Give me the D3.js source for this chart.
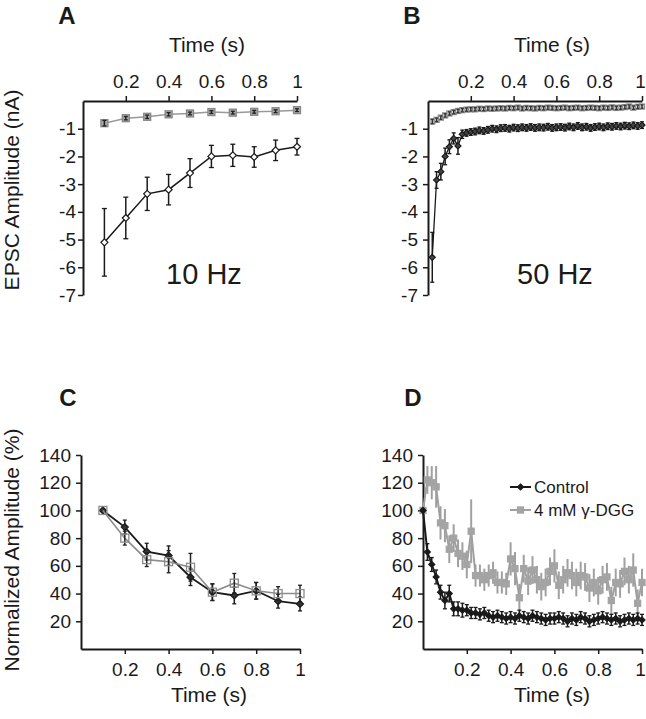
<!DOCTYPE html>
<html><head><meta charset="utf-8">
<script src="https://cdn.jsdelivr.net/npm/d3@7"></script>
<style>body{margin:0;background:#fff}svg{display:block}text{font-family:"Liberation Sans",Arial,sans-serif;fill:#1a1a1a}</style>
</head><body>
<svg id="chart" width="646" height="719"></svg>
<script>
// ---------- data ----------
const timesA = [0.1,0.2,0.3,0.4,0.5,0.6,0.7,0.8,0.9,1.0];
const controlA = [-5.1,-4.22,-3.35,-3.2,-2.6,-2.0,-1.96,-2.02,-1.78,-1.65];
const controlAErr = [1.22,0.75,0.6,0.55,0.52,0.4,0.4,0.37,0.37,0.3];
const dggA = [-0.8,-0.62,-0.57,-0.48,-0.45,-0.4,-0.42,-0.39,-0.37,-0.33];
const dggAErr = [0.1,0.06,0.06,0.06,0.05,0.05,0.05,0.05,0.05,0.05];

const timesB = [0.02,0.04,0.06,0.08,0.10,0.12,0.14,0.16,0.18,0.20,0.22,0.24,0.26,0.28,0.30,0.32,0.34,0.36,0.38,0.40,0.42,0.44,0.46,0.48,0.50,0.52,0.54,0.56,0.58,0.60,0.62,0.64,0.66,0.68,0.70,0.72,0.74,0.76,0.78,0.80,0.82,0.84,0.86,0.88,0.90,0.92,0.94,0.96,0.98,1.00];
const controlB = [-5.64,-2.85,-2.55,-2.0,-1.65,-1.35,-1.62,-1.2,-1.15,-1.12,-1.1,-1.06,-1.08,-1.04,-1.0,-1.02,-0.98,-0.97,-1.0,-0.96,-0.98,-0.95,-0.97,-0.94,-0.97,-0.95,-0.96,-0.93,-0.97,-0.95,-0.94,-0.96,-0.92,-0.95,-0.9,-0.95,-0.93,-0.97,-0.94,-0.92,-0.95,-0.91,-0.93,-0.9,-0.92,-0.89,-0.91,-0.88,-0.9,-0.87];
const controlBErr = [0.9,0.3,0.3,0.3,0.25,0.2,0.3,0.15,0.12,0.12,0.12,0.12,0.12,0.12,0.12,0.12,0.12,0.12,0.12,0.12,0.12,0.12,0.12,0.12,0.12,0.12,0.12,0.12,0.12,0.12,0.12,0.12,0.12,0.12,0.12,0.12,0.12,0.12,0.12,0.12,0.12,0.12,0.12,0.12,0.12,0.12,0.12,0.12,0.12,0.12];
const dggB = [-0.74,-0.68,-0.6,-0.52,-0.45,-0.4,-0.36,-0.33,-0.31,-0.3,-0.3,-0.28,-0.29,-0.27,-0.28,-0.27,-0.26,-0.27,-0.25,-0.26,-0.24,-0.27,-0.25,-0.26,-0.27,-0.25,-0.26,-0.24,-0.25,-0.26,-0.25,-0.24,-0.26,-0.25,-0.24,-0.26,-0.25,-0.24,-0.25,-0.26,-0.24,-0.25,-0.23,-0.25,-0.24,-0.22,-0.2,-0.24,-0.21,-0.2];
const dggBErr = [0.08,0.06,0.06,0.06,0.06,0.06,0.06,0.06,0.06,0.06,0.06,0.06,0.06,0.06,0.06,0.06,0.06,0.06,0.06,0.06,0.06,0.06,0.06,0.06,0.06,0.06,0.06,0.06,0.06,0.06,0.06,0.06,0.06,0.06,0.06,0.06,0.06,0.06,0.06,0.06,0.06,0.06,0.06,0.06,0.06,0.06,0.06,0.06,0.06,0.06];

const timesC = [0.1,0.2,0.3,0.4,0.5,0.6,0.7,0.8,0.9,1.0];
const controlC = [100,88,70.3,67.4,51.8,41,38.6,42,34.5,32.5];
const controlCErr = [0,5,6,7,6,6,6,6,5,5];
const dggC = [100,80,64.5,63,59,41,47.5,42,40,40];
const dggCErr = [0,5,5,8,10,6,7,6,5,6];

const timesD = [0,0.02,0.04,0.06,0.08,0.10,0.12,0.14,0.16,0.18,0.20,0.22,0.24,0.26,0.28,0.30,0.32,0.34,0.36,0.38,0.40,0.42,0.44,0.46,0.48,0.50,0.52,0.54,0.56,0.58,0.60,0.62,0.64,0.66,0.68,0.70,0.72,0.74,0.76,0.78,0.80,0.82,0.84,0.86,0.88,0.90,0.92,0.94,0.96,0.98,1.00];
const controlD = [100,70,61,52,41,35,40,29,29,28,28,26,26,25,26,24,23,24,23,22,23,22,24,23,22,24,23,22,21,22,22,23,22,20,22,21,23,22,20,21,22,23,22,21,22,20,21,22,21,22,21];
const controlDErr = [0,6,5,5,5,6,6,5,5,5,4,4,4,4,4,4,4,4,4,4,4,4,4,4,4,4,4,4,4,4,4,4,4,4,4,4,4,4,4,4,4,4,4,4,4,4,4,4,4,4,4];
const dggD = [100,122,120,117,91,89,72,80,69,67,61,85,53,53,50,53,55,48,48,47,65,58,37,58,49,57,50,45,48,56,60,46,50,55,53,48,53,52,44,48,42,50,52,35,48,47,56,50,57,33,48];
const dggDErr = [0,10,12,15,12,12,10,10,10,10,10,23,8,8,8,8,8,8,8,8,12,12,10,10,10,10,10,10,10,10,12,10,10,10,10,10,10,10,10,10,10,10,10,10,10,10,10,10,12,10,10];

const xTicks = [0.2,0.4,0.6,0.8,1];
const ampTicks = [-1,-2,-3,-4,-5,-6,-7];
const normTicks = [20,40,60,80,100,120,140];
const panelLetters = ["A","B","C","D"];
const freqLabels = ["10 Hz","50 Hz"];
const legendLabels = ["Control","4 mM \u03b3-DGG"];

// ---------- drawing ----------
const svg = d3.select("#chart");
svg.append("rect").attr("width",646).attr("height",719).attr("fill","#fff");
const BLACK = "#1a1a1a", GRAY = "#999";
const plain = d => String(d);

function diamond(g, x, y, r, fill, stroke){
  g.append("path").attr("d",`M${x},${y-r}L${x+r},${y}L${x},${y+r}L${x-r},${y}Z`)
   .attr("fill",fill).attr("stroke",stroke).attr("stroke-width",1.2);
}
function square(g, x, y, s, fill, stroke){
  g.append("rect").attr("x",x-s/2).attr("y",y-s/2).attr("width",s).attr("height",s)
   .attr("fill",fill).attr("stroke",stroke).attr("stroke-width",1.3);
}

function series(g, xs, ys, t, v, e, o){
  const line = d3.line().x((d,i)=>xs(t[i])).y(d=>ys(d));
  g.append("path").datum(v).attr("d",line).attr("fill","none")
   .attr("stroke",o.line).attr("stroke-width",o.lw||1.5);
  const drawErr = () => v.forEach((d,i)=>{
    const x = xs(t[i]);
    if(e[i]>0){
      const y1 = ys(d+e[i]), y2 = ys(d-e[i]);
      g.append("line").attr("x1",x).attr("x2",x).attr("y1",y1).attr("y2",y2)
       .attr("stroke",o.err).attr("stroke-width",o.ew||1.5);
      if(o.cap>0)[y1,y2].forEach(yy=>g.append("line").attr("x1",x-o.cap).attr("x2",x+o.cap)
       .attr("y1",yy).attr("y2",yy).attr("stroke",o.err).attr("stroke-width",1.3));
    }
  });
  const drawMarks = () => v.forEach((d,i)=>{
    const x = xs(t[i]), y = ys(d);
    if(o.shape==="d") diamond(g,x,y,o.size,o.fill,o.stroke);
    else square(g,x,y,o.size,o.fill,o.stroke);
  });
  if(o.errOnTop){ drawMarks(); drawErr(); } else { drawErr(); drawMarks(); }
}

function styleAxis(a){
  a.select(".domain").attr("stroke",BLACK).attr("stroke-width",2);
  a.selectAll(".tick line").attr("stroke",BLACK).attr("stroke-width",1.5);
  a.selectAll(".tick text").attr("font-size",19).attr("fill",BLACK)
   .attr("font-family","'Liberation Sans',Arial,sans-serif");
}

function ampPanel(x0, x1, t, c, ce, dg, dge, dense, titleX, yPad){
  const xs = d3.scaleLinear().domain([0,1]).range([x0,x1]);
  const ys = d3.scaleLinear().domain([-7,0]).range([295,101]);
  const ax = svg.append("g").attr("transform",`translate(0,${ys(0)})`)
    .call(d3.axisTop(xs).tickValues(xTicks).tickFormat(plain).tickSize(5).tickSizeOuter(0).tickPadding(8));
  styleAxis(ax);
  if(x1 > 640) ax.selectAll(".tick text").filter(d=>d===1).attr("dx",-2);
  const ay = svg.append("g").attr("transform",`translate(${xs(0)},0)`)
    .call(d3.axisLeft(ys).tickValues(ampTicks).tickFormat(plain).tickSize(5).tickSizeOuter(0).tickPadding(yPad));
  styleAxis(ay);
  const g = svg.append("g");
  series(g, xs, ys, t, dg, dge, dense
    ? {line:GRAY, err:"#333", cap:1.5, shape:"s", size:5, fill:"#e0e0e0", stroke:"#8a8a8a", lw:1.5, errOnTop:true}
    : {line:GRAY, err:"#222", cap:2, shape:"s", size:7, fill:"#a8a8a8", stroke:"#888", lw:1.5, errOnTop:true});
  series(g, xs, ys, t, c, ce, dense
    ? {line:BLACK, err:BLACK, cap:2, shape:"d", size:3, fill:"#444", stroke:BLACK, lw:1.3}
    : {line:BLACK, err:BLACK, cap:2.5, shape:"d", size:3.5, fill:"#fff", stroke:BLACK, lw:1.5});
  svg.append("text").attr("x",titleX).attr("y",52).attr("text-anchor","middle")
    .attr("font-size",21).text("Time (s)");
}

function normPanel(x0, x1, t, c, ce, dg, dge, dense, titleX){
  const xs = d3.scaleLinear().domain([0,1]).range([x0,x1]);
  const ys = d3.scaleLinear().domain([0,140]).range([649,455]);
  const ax = svg.append("g").attr("transform",`translate(0,${ys(0)})`)
    .call(d3.axisBottom(xs).tickValues(xTicks).tickFormat(plain).tickSize(5).tickSizeOuter(0).tickPadding(9));
  styleAxis(ax);
  if(x1 > 640) ax.selectAll(".tick text").filter(d=>d===1).attr("dx",-2);
  const ay = svg.append("g").attr("transform",`translate(${xs(0)},0)`)
    .call(d3.axisLeft(ys).tickValues(normTicks).tickFormat(plain).tickSize(5).tickSizeOuter(0).tickPadding(5));
  styleAxis(ay);
  const g = svg.append("g");
  if(dense){
    series(g, xs, ys, t, dg, dge, {line:"#a0a0a0", err:"#a0a0a0", cap:0, shape:"s", size:6, fill:"#a4a4a4", stroke:"#a4a4a4", lw:2, ew:2});
    series(g, xs, ys, t, c, ce, {line:BLACK, err:BLACK, cap:2, shape:"d", size:3, fill:BLACK, stroke:BLACK, lw:2});
  } else {
    series(g, xs, ys, t, c, ce, {line:BLACK, err:BLACK, cap:2, shape:"d", size:3.5, fill:"#333", stroke:BLACK, lw:1.8});
    series(g, xs, ys, t, dg, dge, {line:"#8c8c8c", err:"#222", cap:2, shape:"s", size:8, fill:"none", stroke:"#8c8c8c", lw:1.6});
  }
  svg.append("text").attr("x",titleX).attr("y",702).attr("text-anchor","middle")
    .attr("font-size",21).text("Time (s)");
}

ampPanel(83, 297, timesA, controlA, controlAErr, dggA, dggAErr, false, 207, 2);
ampPanel(428, 642, timesB, controlB, controlBErr, dggB, dggBErr, true, 552, 5);
normPanel(81, 300, timesC, controlC, controlCErr, dggC, dggCErr, false, 209);
normPanel(423, 642, timesD, controlD, controlDErr, dggD, dggDErr, true, 552);

// frequency labels
svg.append("text").attr("x",204).attr("y",284).attr("text-anchor","middle").attr("font-size",29).text(freqLabels[0]);
svg.append("text").attr("x",555).attr("y",284).attr("text-anchor","middle").attr("font-size",29).text(freqLabels[1]);

// panel letters
[[67,15],[412,15],[68,397],[413,397]].forEach((p,i)=>{
  svg.append("text").attr("x",p[0]).attr("y",p[1]).attr("text-anchor","middle")
    .attr("dominant-baseline","central").attr("font-size",24).attr("font-weight","bold").text(panelLetters[i]);
});

// y axis titles
svg.append("text").attr("transform","translate(19,190) rotate(-90)").attr("text-anchor","middle")
  .attr("font-size",21).text("EPSC Amplitude (nA)");
svg.append("text").attr("transform","translate(19,550) rotate(-90)").attr("text-anchor","middle")
  .attr("font-size",21).text("Normalized Amplitude (%)");

// legend (panel D)
const lg = svg.append("g");
lg.append("line").attr("x1",510).attr("x2",531).attr("y1",487).attr("y2",487).attr("stroke",BLACK).attr("stroke-width",2);
diamond(lg,520.5,487,3,BLACK,BLACK);
lg.append("text").attr("x",534).attr("y",493).attr("font-size",17).text(legendLabels[0]);
lg.append("line").attr("x1",510).attr("x2",531).attr("y1",510).attr("y2",510).attr("stroke","#a0a0a0").attr("stroke-width",2);
square(lg,520.5,510,6,"#a4a4a4","#a4a4a4");
lg.append("text").attr("x",534).attr("y",516).attr("font-size",17).text(legendLabels[1]);
</script>
</body></html>
